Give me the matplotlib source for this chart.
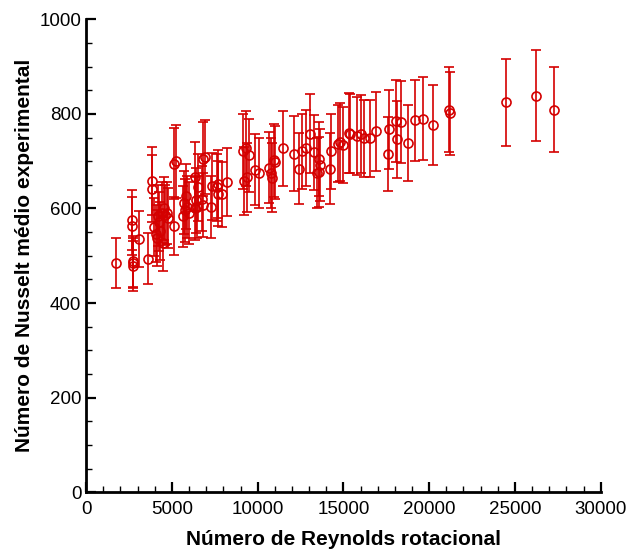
import matplotlib
matplotlib.use("Agg")
import matplotlib.pyplot as plt
from matplotlib.ticker import MultipleLocator

plt.rcParams['font.family'] = ['Liberation Sans', 'DejaVu Sans']

# rotational Reynolds number
reynolds = [1750, 2700, 2680, 2720, 2750, 2740, 3100, 3600, 3830, 3850,
            3970, 4080, 4150, 4200, 4250, 4300, 4420, 4480, 4550, 4600,
            4700, 4780, 5140, 5250, 5150, 5700, 5750, 5650, 5800, 5850,
            6000, 6360, 6350, 6450, 6500, 6400, 6810, 6950, 6750, 6800,
            7300, 7350, 7650, 7700, 7700, 7900, 8200, 9150, 9300, 9500,
            9200, 9350, 9860, 10100, 10640, 10800, 10850, 10950, 11000, 11460,
            12140, 12400, 12600, 12800, 13040, 13280, 13550, 13650, 13470, 13550,
            14250, 14200, 14700, 14800, 14950, 15310, 15400, 15800, 16050, 16200,
            16520, 16870, 17650, 17600, 18040, 18350, 18100, 18760, 19200, 19650,
            20240, 21150, 21200, 24460, 26210, 27280]

# mean experimental Nusselt number
nusselt = [485, 575, 563, 484, 478, 488, 536, 494, 658, 642,
           561, 547, 537, 585, 572, 553, 591, 526, 600, 586,
           590, 580, 695, 700, 563, 612, 596, 583, 626, 603,
           590, 667, 600, 603, 645, 617, 705, 709, 621, 607,
           603, 647, 645, 631, 652, 630, 656, 721, 727, 712,
           658, 666, 682, 675, 686, 675, 665, 702, 698, 727,
           716, 684, 721, 728, 758, 719, 705, 691, 674, 677,
           721, 684, 737, 741, 734, 760, 758, 753, 757, 748,
           748, 763, 767, 715, 785, 783, 746, 738, 786, 790,
           776, 809, 801, 824, 838, 809]

# uncertainty (half-width of the error bars)
incerteza = [53, 63, 62, 53, 53, 54, 59, 54, 72, 71,
             62, 60, 59, 64, 63, 61, 65, 58, 66, 64,
             65, 64, 76, 77, 62, 67, 66, 64, 69, 66,
             65, 73, 66, 66, 71, 68, 78, 78, 68, 67,
             66, 71, 71, 69, 72, 69, 72, 79, 80, 78,
             72, 73, 75, 74, 75, 74, 73, 77, 77, 80,
             79, 75, 79, 80, 83, 79, 78, 76, 74, 74,
             79, 75, 81, 82, 81, 84, 83, 83, 83, 82,
             82, 84, 84, 79, 86, 86, 82, 81, 86, 87,
             85, 89, 88, 91, 96, 90]

fig = plt.figure(figsize=(6.29, 5.5), dpi=100)
ax = fig.add_axes([0.137, 0.105, 0.818, 0.86])

ax.errorbar(reynolds, nusselt, yerr=incerteza, fmt='o', color='#d40000',
            mfc='none', mec='#d40000', markersize=6.5, mew=1.2,
            elinewidth=1.2, capsize=3.5, capthick=1.2)

ax.set_xlim(0, 30000)
ax.set_ylim(0, 1000)
ax.xaxis.set_major_locator(MultipleLocator(5000))
ax.xaxis.set_minor_locator(MultipleLocator(1000))
ax.yaxis.set_major_locator(MultipleLocator(200))
ax.yaxis.set_minor_locator(MultipleLocator(50))

ax.spines['top'].set_visible(False)
ax.spines['right'].set_visible(False)
ax.spines['left'].set_linewidth(2)
ax.spines['bottom'].set_linewidth(2)
ax.tick_params(which='major', direction='in', length=7, width=1.6, labelsize=13.5)
ax.tick_params(axis='x', which='major', pad=6)
ax.tick_params(which='minor', direction='in', length=4, width=1)

ax.set_xlabel('Número de Reynolds rotacional', fontsize=15, fontweight='bold', labelpad=9)
ax.set_ylabel('Número de Nusselt médio experimental', fontsize=15, fontweight='bold', labelpad=4)

plt.savefig('out.png', dpi=100)
